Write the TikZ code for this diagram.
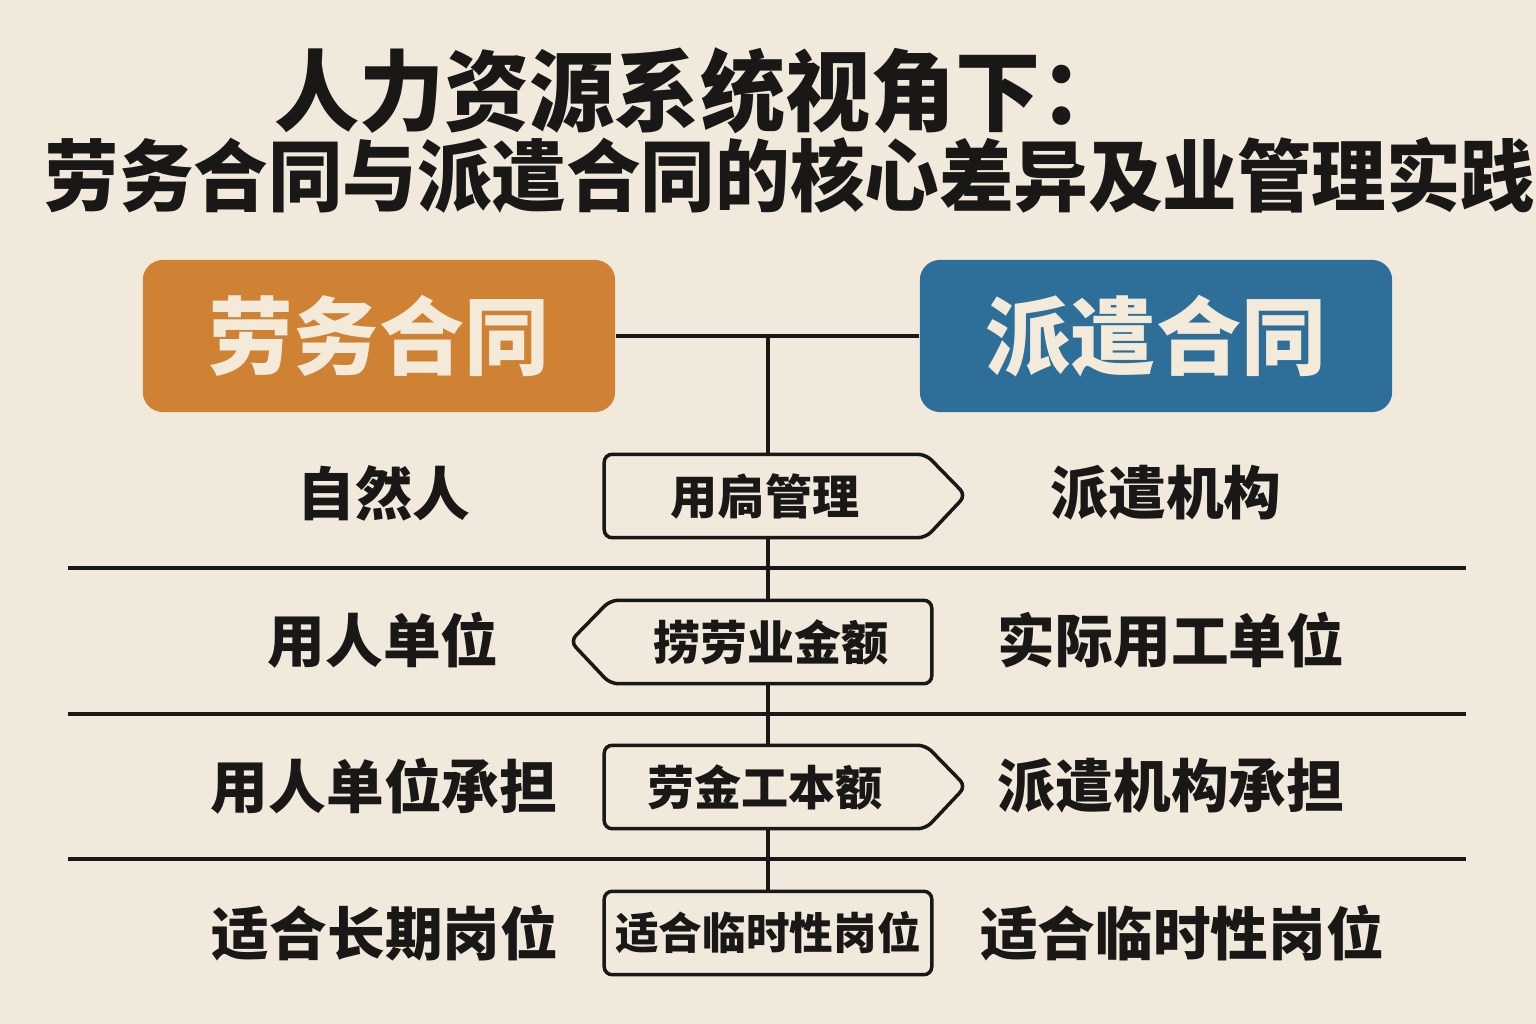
\documentclass[tikz,border=0pt]{standalone}
\usepackage{fontspec}
\newfontfamily\cjk{Noto Sans CJK SC}
\definecolor{paper}{RGB}{240,233,220}
\definecolor{laowu}{RGB}{207,130,52}
\definecolor{paiqian}{RGB}{46,111,154}
\definecolor{ink}{RGB}{26,24,22}
\definecolor{cream}{RGB}{243,234,218}
\tikzset{
  edge/.style={draw=ink, line width=1pt},
  head/.style={fill=#1, rounded corners=0.2cm, minimum width=4.72cm, minimum height=1.52cm,
    inner sep=0pt, text=cream, font=\cjk\bfseries\fontsize{24.2}{26}\selectfont},
  cell/.style={text=ink, inner sep=0pt, font=\cjk\bfseries\fontsize{16.4}{18}\selectfont},
  tag/.style={minimum width=3.2cm, minimum height=0.82cm, inner sep=0pt, text=ink,
    font=\cjk\bfseries\fontsize{13.4}{15}\selectfont},
}
\begin{document}
\begin{tikzpicture}[x=0.01cm,y=-0.01cm]
\fill[paper] (0,0) rectangle (1536,1024);
\useasboundingbox (0,0) rectangle (1536,1024);

% title
\node[text=ink, font=\cjk\bfseries\fontsize{24.2}{26}\selectfont, yscale=1.04] (t1) at (700,91) {人力资源系统视角下：};
\node[text=ink, font=\cjk\bfseries\fontsize{21.2}{23}\selectfont, yscale=1.05] (t2) at (790,175) {劳务合同与派遣合同的核心差异及业管理实践};

% the two contracts
\node[head=laowu] (lw) at (379,336) {劳务合同};
\node[head=paiqian] (pq) at (1156,336) {派遣合同};
\coordinate (hub) at (768,337);
\draw[edge] (lw.east) -- (pq.west);

% rows
\foreach \y in {568,714,859}
  \draw[edge] (68,\y) -- (1466,\y);

\node[cell] (l1) at (384,493) {自然人};
\node[cell] (l2) at (383,640) {用人单位};
\node[cell] (l3) at (384,786) {用人单位承担};
\node[cell] (l4) at (385,933) {适合长期岗位};

\node[cell] (r1) at (1166,493) {派遣机构};
\node[cell] (r2) at (1171,640) {实际用工单位};
\node[cell] (r3) at (1171,786) {派遣机构承担};
\node[cell] (r4) at (1182,933) {适合临时性岗位};

% middle tags
\node[tag] (k1) at (765,496) {用扃管理};
\node[tag] (k2) at (771,642) {捞劳业金额};
\node[tag] (k3) at (765,787) {劳金工本额};
\node[tag, minimum width=3.26cm, font=\cjk\bfseries\fontsize{12.4}{14}\selectfont] (k4) at (768,933) {适合临时性岗位};

\draw[edge, rounded corners=0.08cm] (k1.north west) -- (k1.north east) -- ++(40,41) -- (k1.south east) -- (k1.south west) -- cycle;
\draw[edge, rounded corners=0.08cm] (k2.north east) -- (k2.north west) -- ++(-40,41) -- (k2.south west) -- (k2.south east) -- cycle;
\draw[edge, rounded corners=0.08cm] (k3.north west) -- (k3.north east) -- ++(40,41) -- (k3.south east) -- (k3.south west) -- cycle;
\draw[edge, rounded corners=0.08cm] (k4.north west) rectangle (k4.south east);

\draw[edge] (hub) -- (hub |- k1.north);
\draw[edge] (hub |- k1.south) -- (hub |- k2.north);
\draw[edge] (hub |- k2.south) -- (hub |- k3.north);
\draw[edge] (hub |- k3.south) -- (hub |- k4.north);
\end{tikzpicture}
\end{document}
